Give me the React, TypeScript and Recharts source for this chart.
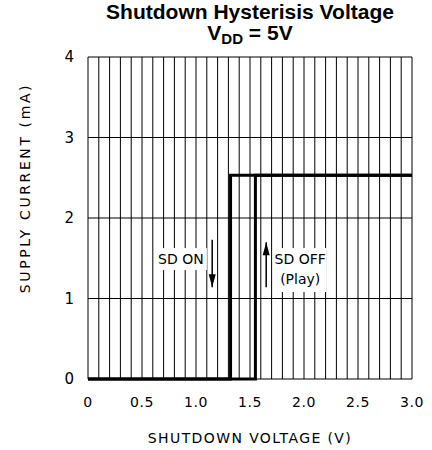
import React from 'react';
import { LineChart, Line, XAxis, YAxis, CartesianGrid, ReferenceDot, ReferenceLine } from 'recharts';

// Hysteresis paths (voltage V, current mA)
const sdOnPath = [
  { v: 3.0, i: 2.53 },
  { v: 1.32, i: 2.53 },
  { v: 1.32, i: 0 },
  { v: 0, i: 0 },
];
const sdOffPath = [
  { v: 0, i: 0 },
  { v: 1.55, i: 0 },
  { v: 1.55, i: 2.53 },
  { v: 3.0, i: 2.53 },
];

const xGridTicks = [
  0, 0.1, 0.2, 0.3, 0.4, 0.5, 0.6, 0.7, 0.8, 0.9, 1.0, 1.1, 1.2, 1.3, 1.4, 1.5,
  1.6, 1.7, 1.8, 1.9, 2.0, 2.1, 2.2, 2.3, 2.4, 2.5, 2.6, 2.7, 2.8, 2.9, 3.0,
];
const xLabelTicks = [0, 0.5, 1.0, 1.5, 2.0, 2.5, 3.0];
const xLabelTexts = ['0', '0.5', '1.0', '1.5', '2.0', '2.5', '3.0'];
const yTicks = [0, 1, 2, 3, 4];

// annotations
const onArrow = { x: 1.15, yTop: 1.73, yBottom: 1.14 };
const offArrow = { x: 1.65, yTop: 1.70, yBottom: 1.14 };
const onLabel = { x: 0.86, y: 1.49, text: 'SD ON' };
const offLabel = { x: 1.965, y: 1.49, lines: ['SD OFF', '(Play)'] };

const FONT = '"DejaVu Sans", sans-serif';

const XTick = (props: any) => {
  const { x, y, payload } = props;
  const idx = xLabelTicks.findIndex((t) => Math.abs(t - payload.value) < 1e-6);
  if (idx < 0) return null;
  return (
    <text x={x} y={y} dy="0.71em" textAnchor="middle" fontFamily={FONT} fontSize={14} fill="#000" letterSpacing={0.5}>
      {xLabelTexts[idx]}
    </text>
  );
};

const OnLabelShape = (p: any) => {
  const { cx, cy } = p;
  return (
    <g>
      <rect x={cx - 26} y={cy - 11} width={52} height={22} fill="#fff" />
      <text x={cx} y={cy} dy="0.36em" textAnchor="middle" fontFamily={FONT} fontSize={14} fill="#000">
        {onLabel.text}
      </text>
    </g>
  );
};

const OffLabelShape = (p: any) => {
  const { cx, cy } = p;
  return (
    <g>
      <rect x={cx - 26} y={cy - 11} width={52} height={44} fill="#fff" />
      <text x={cx} y={cy} dy="0.36em" textAnchor="middle" fontFamily={FONT} fontSize={14} fill="#000">
        {offLabel.lines[0]}
      </text>
      <text x={cx} y={cy + 20} dy="0.36em" textAnchor="middle" fontFamily={FONT} fontSize={14} fill="#000">
        {offLabel.lines[1]}
      </text>
    </g>
  );
};

const DownHead = (p: any) => {
  const { cx, cy } = p;
  return <path d={`M${cx - 3.5},${cy - 13} L${cx + 3.5},${cy - 13} L${cx},${cy} Z`} fill="#000" />;
};
const UpHead = (p: any) => {
  const { cx, cy } = p;
  return <path d={`M${cx - 3.5},${cy + 13} L${cx + 3.5},${cy + 13} L${cx},${cy} Z`} fill="#000" />;
};

const YLabel = () => {
  const cx = 25;
  const cy = 188;
  return (
    <text
      x={cx}
      y={cy}
      transform={`rotate(-90, ${cx}, ${cy})`}
      textAnchor="middle"
      dy="0.36em"
      fontFamily={FONT}
      fontSize={14}
      fill="#000"
      letterSpacing={2.6}
    >
      SUPPLY CURRENT (mA)
    </text>
  );
};

export default function App() {
  return (
    <div style={{ position: 'absolute', left: 0, top: 0, width: 432, height: 450, background: '#fff' }}>
      <div
        style={{
          position: 'absolute',
          left: 0,
          top: 1,
          width: 500,
          textAlign: 'center',
          fontFamily: '"Liberation Sans", Arial, sans-serif',
          fontWeight: 'bold',
          fontSize: 21,
          lineHeight: '21px',
          color: '#000',
        }}
      >
        <div>Shutdown Hysterisis Voltage</div>
        <div>
          V<span style={{ fontSize: 15, position: 'relative', top: 4 }}>DD</span> = 5V
        </div>
      </div>
      <LineChart width={432} height={450} margin={{ top: 57, right: 20, bottom: 0, left: 0 }}>
        <CartesianGrid stroke="#000" strokeWidth={1} horizontal vertical />
        <XAxis
          type="number"
          dataKey="v"
          domain={[0, 3]}
          ticks={xGridTicks}
          interval={0}
          tickLine={false}
          axisLine={false}
          height={71}
          tick={<XTick />}
          tickMargin={12}
          allowDuplicatedCategory={false}
          label={{ value: 'SHUTDOWN VOLTAGE (V)', position: 'insideBottom', offset: 7, fontFamily: FONT, fontSize: 14, fill: '#000', letterSpacing: 1.4 }}
        />
        <YAxis
          type="number"
          dataKey="i"
          domain={[0, 4]}
          ticks={yTicks}
          interval={0}
          tickLine={false}
          axisLine={false}
          width={88}
          tickMargin={8}
          tick={{ fontFamily: FONT, fontSize: 15, fill: '#000' }}
          label={<YLabel />}
        />
        <ReferenceDot x={onLabel.x} y={onLabel.y} r={0} shape={<OnLabelShape />} />
        <ReferenceDot x={offLabel.x} y={offLabel.y} r={0} shape={<OffLabelShape />} />
        <ReferenceLine segment={[{ x: onArrow.x, y: onArrow.yTop }, { x: onArrow.x, y: onArrow.yBottom }]} stroke="#000" strokeWidth={1.5} />
        <ReferenceDot x={onArrow.x} y={onArrow.yBottom} r={0} shape={<DownHead />} />
        <ReferenceLine segment={[{ x: offArrow.x, y: offArrow.yTop }, { x: offArrow.x, y: offArrow.yBottom }]} stroke="#000" strokeWidth={1.5} />
        <ReferenceDot x={offArrow.x} y={offArrow.yTop} r={0} shape={<UpHead />} />
        <Line data={sdOnPath} dataKey="i" type="linear" stroke="#000" strokeWidth={3} dot={false} isAnimationActive={false} />
        <Line data={sdOffPath} dataKey="i" type="linear" stroke="#000" strokeWidth={3} dot={false} isAnimationActive={false} />
      </LineChart>
    </div>
  );
}
